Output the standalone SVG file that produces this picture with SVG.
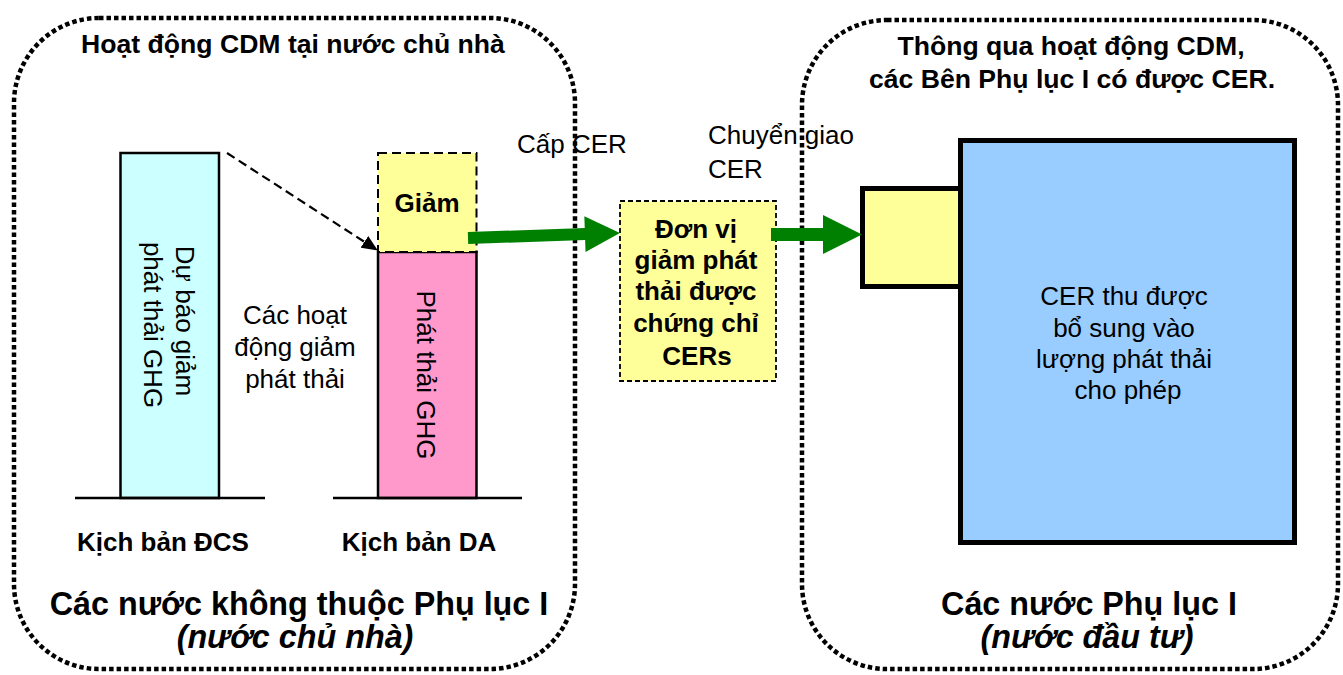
<svg xmlns="http://www.w3.org/2000/svg" width="1343" height="675" viewBox="0 0 1343 675">
<style>
text{font-family:"Liberation Sans",Arial,sans-serif;fill:#000}
.n{font-size:26px}
.t{font-size:26px;font-weight:bold}
.h{font-size:26.6px;font-weight:bold}
.big{font-size:32.3px;font-weight:bold}
.region{fill:none;stroke:#000;stroke-width:4.5;stroke-dasharray:4.5 3}
.bar{stroke:#000;stroke-width:2.5}
.green{fill:#008000}
</style>
<defs>
<marker id="ah" markerWidth="16" markerHeight="14" refX="15" refY="7" orient="auto" markerUnits="userSpaceOnUse">
<path d="M0,0 L16,7 L0,14 Z" fill="#000"/>
</marker>
</defs>
<rect width="1343" height="675" fill="#fff"/>

<g id="region-host">
<rect class="region" x="14" y="18" width="561" height="651" rx="85" ry="85"/>
<text class="h" x="293" y="53" text-anchor="middle">Hoạt động CDM tại nước chủ nhà</text>
<text class="big" x="299" y="615" text-anchor="middle">Các nước không thuộc Phụ lục I</text>
<text class="big" x="295" y="648" text-anchor="middle" font-style="italic">(nước chủ nhà)</text>
</g>

<g id="region-investor">
<rect class="region" x="802" y="20" width="536" height="649" rx="85" ry="85"/>
<text class="h" x="1071" y="55" text-anchor="middle">Thông qua hoạt động CDM,</text>
<text class="h" x="1072" y="88" text-anchor="middle">các Bên Phụ lục I có được CER.</text>
<text class="big" x="1089" y="615" text-anchor="middle">Các nước Phụ lục I</text>
<text class="big" x="1087" y="648" text-anchor="middle" font-style="italic">(nước đầu tư)</text>
</g>

<g id="baseline-scenario">
<rect class="bar" x="120.5" y="153" width="98.5" height="345" fill="#CCFFFF"/>
<line x1="75" y1="498" x2="265" y2="498" stroke="#000" stroke-width="2.5"/>
<text class="n" transform="translate(176,321) rotate(90)" text-anchor="middle">Dự báo giảm</text>
<text class="n" transform="translate(144,325) rotate(90)" text-anchor="middle">phát thải GHG</text>
<text class="t" x="163" y="551" text-anchor="middle">Kịch bản ĐCS</text>
</g>

<g id="project-scenario">
<rect class="bar" x="378" y="252" width="98.5" height="246" fill="#FF99CC"/>
<line x1="333" y1="498" x2="522" y2="498" stroke="#000" stroke-width="2.5"/>
<text class="n" transform="translate(417,375) rotate(90)" text-anchor="middle">Phát thải GHG</text>
<text class="t" x="419" y="551" text-anchor="middle">Kịch bản DA</text>
</g>

<g id="reduction">
<rect x="378" y="153" width="98.5" height="99" fill="#FFFF99" stroke="#000" stroke-width="2" stroke-dasharray="9 5"/>
<text class="t" x="427" y="212" text-anchor="middle">Giảm</text>
</g>

<g id="activities-label">
<text class="n" x="295" y="324" text-anchor="middle">Các hoạt</text>
<text class="n" x="295" y="356" text-anchor="middle">động giảm</text>
<text class="n" x="295" y="388" text-anchor="middle">phát thải</text>
</g>

<g id="cer-units">
<rect x="620" y="201" width="156" height="180" fill="#FFFF99" stroke="#000" stroke-width="1.8" stroke-dasharray="5 3"/>
<text class="t" x="696" y="238" text-anchor="middle">Đơn vị</text>
<text class="t" x="696" y="269" text-anchor="middle">giảm phát</text>
<text class="t" x="696" y="300" text-anchor="middle">thải được</text>
<text class="t" x="696" y="332" text-anchor="middle">chứng chỉ</text>
<text class="t" x="697" y="365" text-anchor="middle">CERs</text>
</g>

<g id="investor-cer">
<rect x="862.5" y="188.5" width="98" height="98" fill="#FFFF99" stroke="#000" stroke-width="5"/>
</g>

<g id="allowance">
<rect x="960.5" y="140.5" width="334" height="402" fill="#99CCFF" stroke="#000" stroke-width="5"/>
<text class="n" x="1124" y="305" text-anchor="middle">CER thu được</text>
<text class="n" x="1124" y="337" text-anchor="middle">bổ sung vào</text>
<text class="n" x="1124" y="368" text-anchor="middle">lượng phát thải</text>
<text class="n" x="1128" y="399" text-anchor="middle">cho phép</text>
</g>

<g id="connectors">
<line x1="227" y1="153" x2="377" y2="250" stroke="#000" stroke-width="2.2" stroke-dasharray="9 5" marker-end="url(#ah)"/>
<path class="green" d="M0,-6 H117 V-18 L152,0 L117,18 V6 H0 Z" transform="translate(468,238) rotate(-1.9)"/>
<path class="green" d="M771,228 H823 V215 L862,234.5 L823,254 V241 H771 Z"/>
<text class="n" x="517" y="153">Cấp CER</text>
<text class="n" x="708" y="144">Chuyển giao</text>
<text class="n" x="708" y="178">CER</text>
</g>
</svg>
